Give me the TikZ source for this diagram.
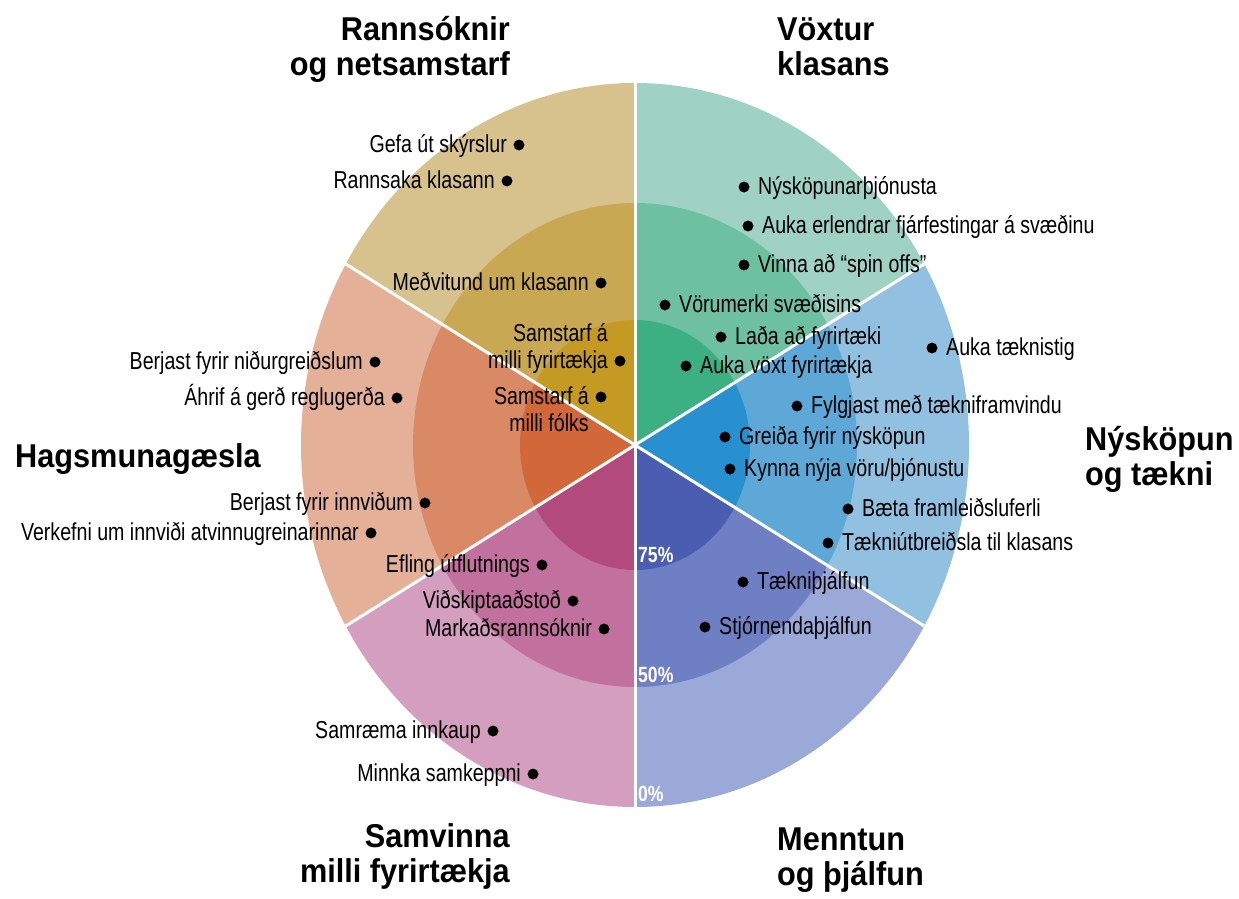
\documentclass[tikz,border=0pt]{standalone}
\usepackage{fontspec}
\setmainfont{Liberation Sans}
\newfontfamily\itemfont[FakeStretch=0.8]{Liberation Sans}
\newfontfamily\titlefont[FakeStretch=0.93]{Liberation Sans}
\definecolor{rnO}{HTML}{D7C28D}\definecolor{rnM}{HTML}{C9A854}\definecolor{rnI}{HTML}{C49A22}
\definecolor{vxO}{HTML}{A0D2C4}\definecolor{vxM}{HTML}{6EC0A2}\definecolor{vxI}{HTML}{3CB082}
\definecolor{nyO}{HTML}{92C0E0}\definecolor{nyM}{HTML}{5EA8D8}\definecolor{nyI}{HTML}{2890CE}
\definecolor{meO}{HTML}{9BA9D8}\definecolor{meM}{HTML}{6F7FC4}\definecolor{meI}{HTML}{4A5DB0}
\definecolor{saO}{HTML}{D49EBE}\definecolor{saM}{HTML}{C2719E}\definecolor{saI}{HTML}{B24A7E}
\definecolor{haO}{HTML}{E4B098}\definecolor{haM}{HTML}{D98964}\definecolor{haI}{HTML}{D2683A}
\newcommand\myringsector[5]{%
  \fill[#1] (0,0) -- (#2:#4pt and #5pt) arc[start angle=#2,end angle=#3,x radius=#4pt,y radius=#5pt] -- cycle;}
\newcommand\mysector[5]{% start, end, outer, middle, inner colours
  \myringsector{#3}{#1}{#2}{334}{362}%
  \myringsector{#4}{#1}{#2}{222}{242}%
  \myringsector{#5}{#1}{#2}{115}{125}}
\newcommand\myitemL[4]{%
  \node[dot] (#1) at (#2,-#3) {};
  \node[itemL] (#1t) at ([xshift=-12pt,yshift=-7pt]#1.center) {#4};}
\newcommand\myitemR[4]{%
  \node[dot] (#1) at (#2,-#3) {};
  \node[itemR] (#1t) at ([xshift=14pt,yshift=-7pt]#1.center) {#4};}
\begin{document}
\begin{tikzpicture}[x=1pt,y=1pt,
  dot/.style={circle,fill=black,inner sep=0pt,minimum size=11pt},
  itemL/.style={anchor=base east,inner sep=0pt,font=\itemfont\fontsize{24.5}{27}\selectfont},
  itemR/.style={anchor=base west,inner sep=0pt,font=\itemfont\fontsize{24.5}{27}\selectfont},
  ttl/.style={inner sep=0pt,font=\titlefont\bfseries\fontsize{33}{34.5}\selectfont},
  pct/.style={anchor=base west,inner sep=0pt,text=white,font=\itemfont\bfseries\fontsize{22}{22}\selectfont},
  sepline/.style={white,line width=3pt}]
\useasboundingbox[fill=white] (0,0) rectangle (1239,-899);
\begin{scope}[shift={(635,-445)}]
  \mysector{90}{150}{rnO}{rnM}{rnI}
  \mysector{30}{90}{vxO}{vxM}{vxI}
  \mysector{-30}{30}{nyO}{nyM}{nyI}
  \mysector{-90}{-30}{meO}{meM}{meI}
  \mysector{210}{270}{saO}{saM}{saI}
  \mysector{150}{210}{haO}{haM}{haI}
  \foreach \a in {90,30,-30,-90,210,150}
    \draw[sepline] (0,0) -- (\a:334pt and 362pt);
\end{scope}
% titles (base anchor = baseline of the last line)
\node[ttl,align=right,anchor=base east] (T1) at (510,-75) {Rannsóknir\\og netsamstarf};
\node[ttl,align=left,anchor=base west] (T2) at (777,-75) {Vöxtur\\klasans};
\node[ttl,align=left,anchor=base west] (T3) at (1085,-485) {Nýsköpun\\og tækni};
\node[ttl,anchor=base west] (T4) at (15,-467) {Hagsmunagæsla};
\node[ttl,align=right,anchor=base east] (T5) at (510,-882) {Samvinna\\milli fyrirtækja};
\node[ttl,align=left,anchor=base west] (T6) at (777,-885) {Menntun\\og þjálfun};
% Rannsóknir
\myitemL{r1}{519}{145}{Gefa út skýrslur}
\myitemL{r2}{507}{181}{Rannsaka klasann}
\myitemL{r3}{601}{283}{Meðvitund um klasann}
\node[dot] (r4) at (620,-361) {};
\node[itemL,align=right] (r4t) at (608,-368) {Samstarf á\\milli fyrirtækja};
\node[dot] (r5) at (601,-397) {};
\node[itemL,align=right] (r5t) at (589,-431) {Samstarf á\\milli fólks};
% Vöxtur
\myitemR{v1}{744}{187}{Nýsköpunarþjónusta}
\myitemR{v2}{748}{226}{Auka erlendrar fjárfestingar á svæðinu}
\myitemR{v3}{744}{265}{Vinna að “spin offs”}
\myitemR{v4}{665}{305}{Vörumerki svæðisins}
\myitemR{v5}{721}{337}{Laða að fyrirtæki}
\myitemR{v6}{686}{366}{Auka vöxt fyrirtækja}
% Nýsköpun
\myitemR{n1}{932}{348}{Auka tæknistig}
\myitemR{n2}{797}{406}{Fylgjast með tækniframvindu}
\myitemR{n3}{725}{437}{Greiða fyrir nýsköpun}
\myitemR{n4}{730}{469}{Kynna nýja vöru/þjónustu}
\myitemR{n5}{848}{509}{Bæta framleiðsluferli}
\myitemR{n6}{828}{543}{Tækniútbreiðsla til klasans}
% Menntun
\myitemR{m1}{743}{582}{Tækniþjálfun}
\myitemR{m2}{705}{627}{Stjórnendaþjálfun}
\node[pct] (p75) at (638,-562) {75\%};
\node[pct] (p50) at (638,-682) {50\%};
\node[pct] (p0) at (638,-801) {0\%};
% Samvinna
\myitemL{s1}{542}{565}{Efling útflutnings}
\myitemL{s2}{573}{601}{Viðskiptaaðstoð}
\myitemL{s3}{604}{629}{Markaðsrannsóknir}
\myitemL{s4}{493}{731}{Samræma innkaup}
\myitemL{s5}{533}{774}{Minnka samkeppni}
% Hagsmunagæsla
\myitemL{h1}{375}{362}{Berjast fyrir niðurgreiðslum}
\myitemL{h2}{397}{398}{Áhrif á gerð reglugerða}
\myitemL{h3}{425}{503}{Berjast fyrir innviðum}
\myitemL{h4}{371}{533}{Verkefni um innviði atvinnugreinarinnar}
\end{tikzpicture}
\end{document}
